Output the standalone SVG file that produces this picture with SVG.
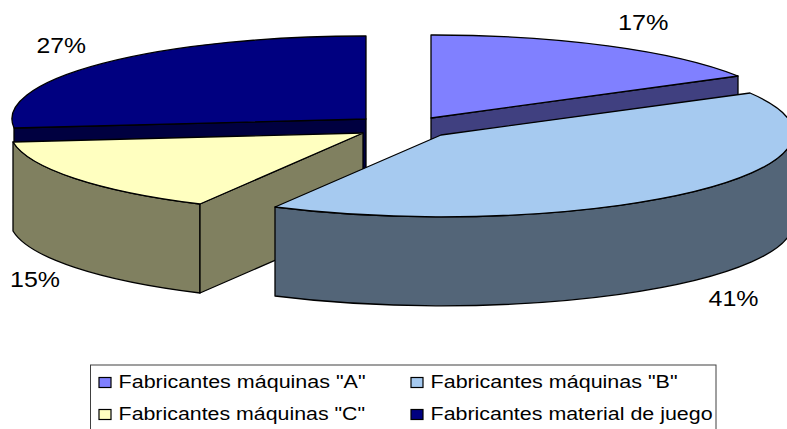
<svg xmlns="http://www.w3.org/2000/svg" width="787" height="429" viewBox="0 0 787 429">
<style>
.e{stroke:#000;stroke-width:1.3;stroke-linejoin:round}
.lbl{font-family:"Liberation Sans",Arial,sans-serif;font-size:22px;fill:#000}
.lg{font-family:"Liberation Sans",Arial,sans-serif;font-size:17.5px;fill:#000}
.mk{stroke:#000;stroke-width:1.2}
</style>
<rect width="787" height="429" fill="#fff"/>
<g id="slice-material">
<polygon class="e" fill="#000040" points="366,119 14,128 14,217 366,208"/>
<path class="e" fill="#000080" d="M366,119 L366,36 A352,83 0 0,0 14,128 Z"/>
</g>
<g id="slice-a">
<polygon class="e" fill="#404080" points="431,118 738,76 738,165 431,207"/>
<path class="e" fill="#8080FF" d="M431,118 L431,35 A352,83 0 0,1 738,76 Z"/>
</g>
<g id="slice-c">
<path class="e" fill="#808060" d="M13,142 A352,83 0 0,0 200,204 L200,293 A352,83 0 0,1 13,231 Z"/>
<polygon class="e" fill="#808060" points="363,133 200,204 200,293 363,222"/>
<path class="e" fill="#FFFFC0" d="M363,133 L13,142 A352,83 0 0,0 200,204 Z"/>
</g>
<g id="slice-b">
<path class="e" fill="#536578" d="M275,207 A352,83 0 0,0 793,135 L793,224 A352,83 0 0,1 275,296 Z"/>
<path class="e" fill="#A6CAF0" d="M441,135 L750,93 A352,83 0 0,1 793,135 A352,83 0 0,1 275,207 Z"/>
</g>
<g id="connectors"></g>
<g id="labels">
<text class="lbl" x="618" y="29.5" textLength="50.5" lengthAdjust="spacingAndGlyphs">17%</text>
<text class="lbl" x="36.5" y="53.3" textLength="49.5" lengthAdjust="spacingAndGlyphs">27%</text>
<text class="lbl" x="10" y="287.3" textLength="50" lengthAdjust="spacingAndGlyphs">15%</text>
<text class="lbl" x="708.5" y="306" textLength="50" lengthAdjust="spacingAndGlyphs">41%</text>
</g>
<g id="legend">
<rect x="90.5" y="365" width="625.5" height="80" fill="#fff" stroke="#404040" stroke-width="1"/>
<rect class="mk" x="99" y="377.5" width="12" height="10" fill="#8080FF"/>
<text class="lg" x="118.6" y="387.5" textLength="247" lengthAdjust="spacingAndGlyphs">Fabricantes máquinas "A"</text>
<rect class="mk" x="411" y="377.5" width="12" height="10" fill="#A6CAF0"/>
<text class="lg" x="430.6" y="387.5" textLength="247" lengthAdjust="spacingAndGlyphs">Fabricantes máquinas "B"</text>
<rect class="mk" x="99" y="409.5" width="12" height="10" fill="#FFFFC0"/>
<text class="lg" x="118.6" y="419.5" textLength="246.5" lengthAdjust="spacingAndGlyphs">Fabricantes máquinas "C"</text>
<rect class="mk" x="411" y="409.5" width="12" height="10" fill="#000080"/>
<text class="lg" x="430.6" y="419.5" textLength="282" lengthAdjust="spacingAndGlyphs">Fabricantes material de juego</text>
</g>
</svg>
